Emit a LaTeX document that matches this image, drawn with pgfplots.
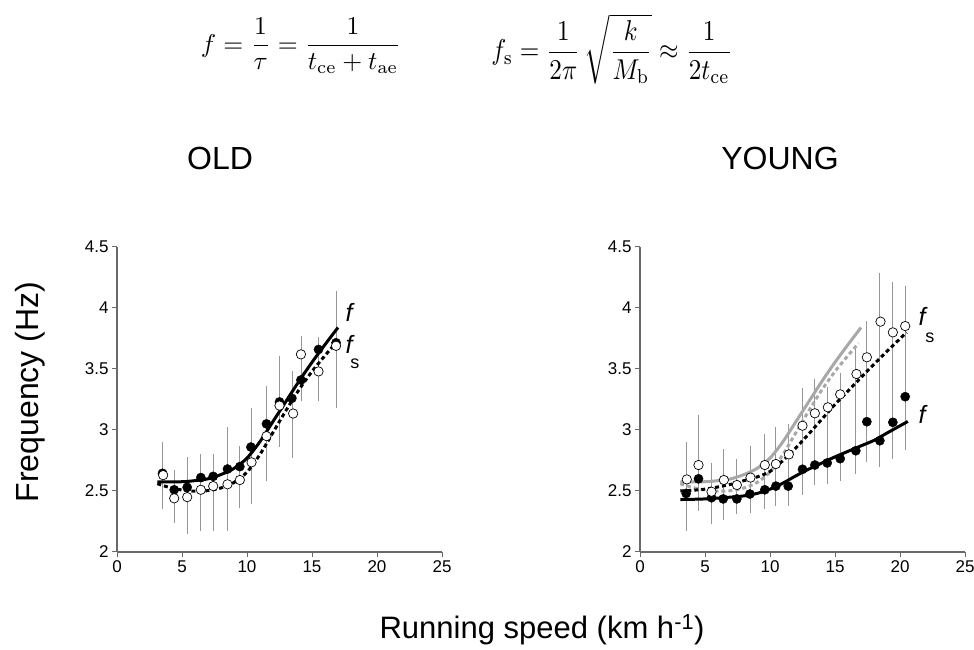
\documentclass[border=0pt]{standalone}
\usepackage[no-math]{fontspec}
\setmainfont{Liberation Sans}
\usepackage{graphicx}
\usepackage{pgfplots}
\usepackage{pgfplotstable}
\pgfplotsset{compat=1.18}

\definecolor{axgray}{RGB}{105,105,105}
\definecolor{ebgray}{RGB}{150,150,150}
\definecolor{lgray}{RGB}{168,168,168}

\pgfplotstableread{
x lo hi
3.5 2.37 2.88
4.4 2.26 2.65
5.4 2.17 2.76
6.45 2.19 2.78
7.4 2.19 2.78
8.5 2.19 3.00
9.45 2.385 2.85
10.35 2.41 3.16
11.5 2.60 3.34
12.5 2.885 3.59
13.5 2.795 3.465
14.15 3.26 3.75
15.5 3.26 3.745
16.9 3.20 4.12
}\oldbars

\pgfplotstableread{
x y
3.5 2.645
4.4 2.51
5.4 2.53
6.45 2.61
7.4 2.62
8.5 2.68
9.45 2.70
10.3 2.86
11.5 3.05
12.5 3.23
13.45 3.26
14.15 3.41
15.5 3.66
16.85 3.715
}\oldf

\pgfplotstableread{
x y
3.55 2.63
4.4 2.44
5.4 2.45
6.45 2.51
7.4 2.54
8.5 2.555
9.45 2.59
10.35 2.735
11.5 2.95
12.5 3.20
13.55 3.135
14.15 3.62
15.5 3.48
16.85 3.69
}\oldfs

\pgfplotstableread{
x y
3.1 2.574
5 2.576
6 2.585
7 2.600
8 2.635
9 2.685
10 2.770
11 2.905
12 3.070
13 3.235
14 3.400
15 3.555
16 3.700
17 3.840
}\oldfcurve

\pgfplotstableread{
x y
3.1 2.56
4 2.53
5 2.508
6 2.498
7 2.503
8 2.525
9 2.570
10 2.655
11 2.800
12 2.980
13 3.160
14 3.330
15 3.480
16 3.610
16.8 3.710
}\oldfscurve

\pgfplotstableread{
x lo hi
3.55 2.19 2.88
4.5 2.36 3.10
5.5 2.25 2.71
6.45 2.28 2.82
7.45 2.33 2.74
8.5 2.34 2.85
9.6 2.37 2.95
10.45 2.40 3.00
11.4 2.40 3.03
12.5 2.49 3.32
13.45 2.57 3.40
14.4 2.58 3.33
15.4 2.60 3.45
16.6 2.66 3.68
17.45 2.76 3.87
18.45 2.72 4.27
19.45 2.78 4.19
20.4 2.86 4.16
}\youngbars

\pgfplotstableread{
x y
3.55 2.48
4.5 2.60
5.5 2.445
6.4 2.435
7.45 2.435
8.45 2.475
9.6 2.51
10.45 2.54
11.4 2.54
12.5 2.678
13.45 2.713
14.4 2.73
15.4 2.765
16.6 2.83
17.45 3.068
18.45 2.912
19.45 3.063
20.4 3.273
}\youngf

\pgfplotstableread{
x y
3.6 2.595
4.5 2.713
5.5 2.494
6.45 2.59
7.45 2.549
8.5 2.61
9.6 2.713
10.45 2.721
11.45 2.80
12.5 3.035
13.45 3.137
14.45 3.186
15.4 3.292
16.65 3.459
17.45 3.596
18.5 3.888
19.45 3.80
20.4 3.852
}\youngfs

\pgfplotstableread{
x y
3.1 2.50
5 2.515
7 2.555
8 2.585
9 2.615
10 2.66
11 2.75
12 2.855
13 2.97
14 3.09
15 3.21
16 3.32
17 3.43
18 3.54
19 3.645
20.5 3.80
}\youngfscurve

\pgfplotstableread{
x y
3.1 2.43
5 2.435
7 2.45
8 2.46
9 2.48
10 2.515
11 2.565
12 2.625
13 2.68
14 2.73
15 2.78
16 2.825
17 2.87
18 2.915
19 2.975
20.6 3.07
}\youngfcurve

\pgfplotsset{
  panel/.style={
    width=325pt, height=305pt, scale only axis,
    xmin=0, xmax=25, ymin=2, ymax=4.5,
    xtick={0,5,10,15,20,25}, ytick={2,2.5,3,3.5,4,4.5},
    axis lines=left,
    axis line style={-, axgray, line width=1.2pt},
    tick style={axgray, line width=1pt},
    major tick length=5pt, tick align=outside,
    tick label style={font=\fontsize{17}{20}\selectfont},
    /pgf/number format/assume math mode=true,
    clip=false,
  },
  ebar/.style={draw=none, mark=none, forget plot,
    error bars/.cd, y dir=both, y explicit,
    error bar style={ebgray, line width=0.8pt},
    error mark options={ebgray, mark size=2.5pt, line width=0.8pt}},
  fillc/.style={only marks, mark=*, mark size=4.6pt, mark options={draw=black, fill=black}},
  openc/.style={only marks, mark=*, mark size=4.7pt, mark options={draw=black, fill=white, line width=0.7pt}},
  solidc/.style={no marks, smooth, line width=3pt},
  dotc/.style={no marks, smooth, line width=3pt, dash pattern=on 4pt off 3pt},
}

\begin{document}
\begin{tikzpicture}
\path[use as bounding box] (0,0) rectangle (974pt,650pt);

% formulas
\node at (301pt,604pt) {\resizebox{200pt}{!}{$\displaystyle f=\frac{1}{\tau}=\frac{1}{t_{\mathrm{ce}}+t_{\mathrm{ae}}}$}};
\node at (612pt,601pt) {\resizebox*{241pt}{70pt}{$\displaystyle f_{\mathrm{s}}=\frac{1}{2\pi}\,\sqrt{\frac{k}{M_{\mathrm{b}}}}\approx\frac{1}{2t_{\mathrm{ce}}}$}};

% titles
\node at (220pt,492pt) {\fontsize{32}{36}\selectfont OLD};
\node at (780pt,492pt) {\fontsize{32}{36}\selectfont YOUNG};

% axis labels
\node[rotate=90] at (30pt,258pt) {\fontsize{32}{35}\selectfont Frequency (Hz)};
\node at (542pt,20pt) {\fontsize{31}{34}\selectfont Running speed (km h\textsuperscript{-1})};

% OLD
\begin{axis}[panel, at={(117pt,98pt)}, anchor=south west]
\addplot[ebar] table[x=x, y=lo, y error plus expr=\thisrow{hi}-\thisrow{lo}, y error minus expr=0] {\oldbars};
\addplot[dotc, black] table {\oldfscurve};
\addplot[solidc, black] table {\oldfcurve};
\addplot[fillc] table {\oldf};
\addplot[openc] table {\oldfs};
\node at (axis cs:17.85,3.96) {\fontsize{25}{28}\selectfont\itshape f};
\node at (axis cs:17.85,3.70) {\fontsize{25}{28}\selectfont\itshape f};
\node at (axis cs:18.3,3.54) {\fontsize{18}{20}\selectfont s};
\end{axis}

% YOUNG
\begin{axis}[panel, at={(640pt,98pt)}, anchor=south west]
\addplot[ebar] table[x=x, y=lo, y error plus expr=\thisrow{hi}-\thisrow{lo}, y error minus expr=0] {\youngbars};
\addplot[solidc, lgray] table {\oldfcurve};
\addplot[dotc, lgray] table {\oldfscurve};
\addplot[dotc, black] table {\youngfscurve};
\addplot[solidc, black] table {\youngfcurve};
\addplot[fillc] table {\youngf};
\addplot[openc] table {\youngfs};
\node at (axis cs:21.7,3.93) {\fontsize{25}{28}\selectfont\itshape f};
\node at (axis cs:22.3,3.76) {\fontsize{18}{20}\selectfont s};
\node at (axis cs:21.7,3.13) {\fontsize{25}{28}\selectfont\itshape f};
\end{axis}
\end{tikzpicture}
\end{document}
